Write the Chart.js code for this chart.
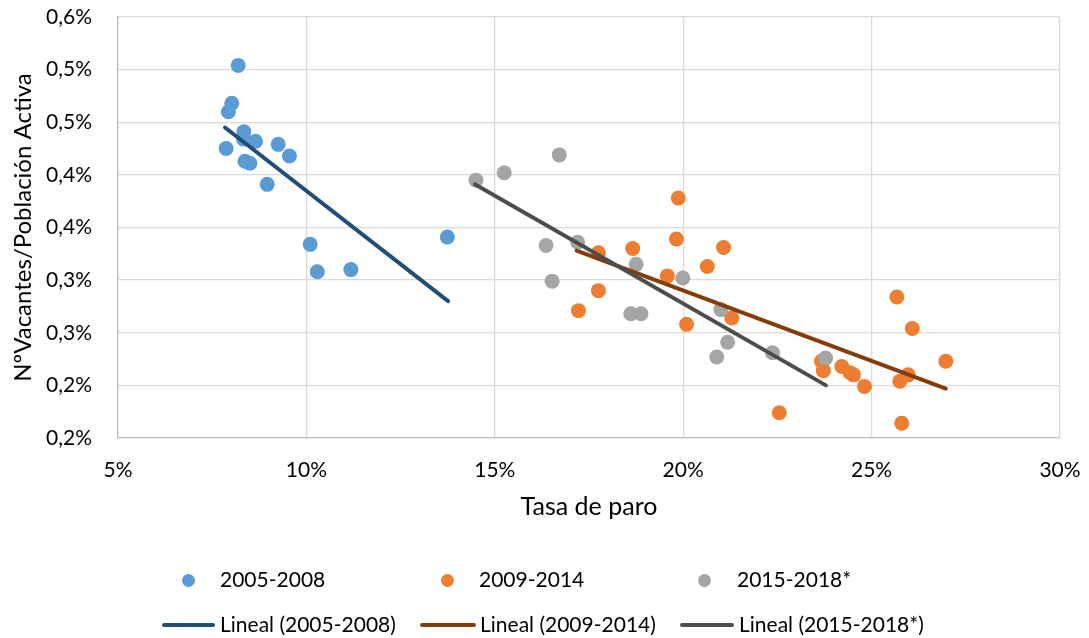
<!DOCTYPE html>
<html lang="es">
<head>
  <meta charset="UTF-8">
  <title>Vacantes vs tasa de paro</title>
  <script src="https://cdn.jsdelivr.net/npm/chart.js"></script>
  <style>
    body {
      margin: 0;
      background-color: #ffffff;
      font-family: Lato, "Open Sans", sans-serif;
    }
    #wrap {
      position: relative;
      width: 1089px;
      height: 638px;
    }
    .mark, .txt {
      position: absolute;
    }
    .txt {
      font-size: 21px;
      line-height: 24px;
      color: #000;
      white-space: nowrap;
    }
  </style>
</head>
<body>
  <div id="wrap">
    <canvas id="scatterChart"></canvas>
  </div>

  <script>
    // tick labels as shown in the original (one decimal, so they repeat)
    const xTickLabels = ["5%", "10%", "15%", "20%", "25%", "30%"];
    const yTickLabels = ["0,2%", "0,2%", "0,3%", "0,3%", "0,4%", "0,4%", "0,5%", "0,5%", "0,6%"];

    const seriesNames = ["2005-2008", "2009-2014", "2015-2018*"];

    // 2005-2008
    const paro0508 = [8.19, 8.02, 7.93, 8.34, 8.33, 8.65, 7.87, 9.25, 9.55, 8.37, 8.50, 8.96, 10.10, 10.29, 11.18, 13.74];
    const vac0508 = [0.504, 0.468, 0.460, 0.441, 0.434, 0.432, 0.425, 0.429, 0.418, 0.413, 0.411, 0.391, 0.334, 0.308, 0.310, 0.341];

    // 2009-2014
    const paro0914 = [17.75, 18.66, 19.87, 19.82, 21.07, 20.64, 19.58, 17.75, 17.22, 20.09, 21.29, 22.55,
                      25.67, 26.08, 26.97, 23.67, 23.72, 24.21, 24.43, 24.52, 24.81, 25.97, 25.75, 25.80];
    const vac0914 = [0.326, 0.330, 0.378, 0.339, 0.331, 0.313, 0.304, 0.290, 0.271, 0.258, 0.264, 0.174,
                     0.284, 0.254, 0.223, 0.223, 0.214, 0.218, 0.212, 0.210, 0.199, 0.210, 0.204, 0.164];

    // 2015-2018*
    const paro1518 = [14.50, 15.25, 16.71, 16.36, 17.20, 16.52, 18.75, 18.61, 18.88, 19.99, 21.00, 21.18, 20.89, 22.37, 23.78];
    const vac1518 = [0.395, 0.402, 0.419, 0.333, 0.336, 0.299, 0.315, 0.268, 0.268, 0.302, 0.272, 0.241, 0.227, 0.231, 0.226];

    // linear trend lines (start / end)
    const trendParo0508 = [7.84, 13.76];
    const trendVac0508 = [0.445, 0.280];
    const trendParo0914 = [17.17, 26.97];
    const trendVac0914 = [0.328, 0.197];
    const trendParo1518 = [14.47, 23.79];
    const trendVac1518 = [0.391, 0.200];

    const pointColors = ["#5B9BD5", "#ED7D31", "#A5A5A5"];
    const lineColors = ["#1F4E79", "#843C0C", "#4D4D4D"];

    const toXY = (xs, ys) => xs.map((x, i) => ({ x: x, y: ys[i] }));

    const pointSets = [[paro0508, vac0508], [paro0914, vac0914], [paro1518, vac1518]];
    const trendSets = [[trendParo0508, trendVac0508], [trendParo0914, trendVac0914], [trendParo1518, trendVac1518]];

    const datasets = [];
    pointSets.forEach((s, i) => {
      datasets.push({
        type: "scatter",
        label: seriesNames[i],
        data: toXY(s[0], s[1]),
        backgroundColor: pointColors[i],
        borderColor: pointColors[i],
        pointRadius: 7.5,
        pointBorderWidth: 0,
        order: 5 - i
      });
    });
    trendSets.forEach((s, i) => {
      datasets.push({
        type: "line",
        label: "Lineal (" + seriesNames[i] + ")",
        data: toXY(s[0], s[1]),
        borderColor: lineColors[i],
        borderWidth: 4,
        borderCapStyle: "round",
        pointRadius: 0,
        fill: false,
        order: 2 - i
      });
    });

    const tickFont = { family: "Lato", size: 21 };
    const titleFont = { family: "Lato", size: 24 };

    new Chart(document.getElementById("scatterChart"), {
      type: "scatter",
      data: { datasets: datasets },
      options: {
        responsive: true,
        maintainAspectRatio: false,
        animation: false,
        layout: { padding: { top: 17, right: 29, bottom: 108, left: 0 } },
        plugins: {
          legend: { display: false },
          tooltip: { enabled: false }
        },
        scales: {
          x: {
            type: "linear",
            min: 5,
            max: 30,
            ticks: {
              stepSize: 5,
              padding: 20,
              color: "#000",
              font: tickFont,
              callback: (v, i) => xTickLabels[i]
            },
            grid: { color: "#d9d9d9", lineWidth: 1.3, drawTicks: false },
            border: { color: "#bfbfbf", width: 1.3 },
            title: {
              display: true,
              text: "Tasa de paro",
              color: "#000",
              font: { family: "Lato", size: 25 },
              padding: { top: 0, bottom: 8 }
            },
            afterFit: scale => {
              scale.height = 92;
              scale.paddingLeft = 0;
              scale.paddingRight = 0;
            }
          },
          y: {
            type: "linear",
            min: 0.15,
            max: 0.55,
            ticks: {
              stepSize: 0.05,
              padding: 26,
              color: "#000",
              font: tickFont,
              callback: (v, i) => yTickLabels[i]
            },
            grid: { color: "#d9d9d9", lineWidth: 1.3, drawTicks: false },
            border: { color: "#bfbfbf", width: 1.3 },
            title: {
              display: true,
              text: "NºVacantes/Población Activa",
              color: "#000",
              font: titleFont,
              padding: { top: 9, bottom: 0 }
            },
            afterFit: scale => {
              scale.width = 118;
              scale.paddingTop = 0;
              scale.paddingBottom = 0;
            }
          }
        }
      }
    });

    // legend in two rows like the original
    const wrap = document.getElementById("wrap");
    const addEl = (cls, css, html) => {
      const el = document.createElement("div");
      el.className = cls;
      el.style.cssText = css;
      if (html) el.textContent = html;
      wrap.appendChild(el);
    };
    const dotX = [188, 447, 704];
    const dotTextX = [220, 479, 737];
    const lineX = [[162, 215], [420, 476], [680, 734]];
    const lineTextX = [220, 480, 739];
    seriesNames.forEach((name, i) => {
      addEl("mark", "left:" + (dotX[i] - 6.5) + "px;top:" + (580 - 6.5) + "px;width:13px;height:13px;border-radius:50%;background:" + pointColors[i]);
      addEl("txt", "left:" + dotTextX[i] + "px;top:" + (580 - 13) + "px", name);
      addEl("mark", "left:" + lineX[i][0] + "px;top:" + (625 - 2) + "px;width:" + (lineX[i][1] - lineX[i][0]) + "px;height:4px;border-radius:2px;background:" + lineColors[i]);
      addEl("txt", "left:" + lineTextX[i] + "px;top:" + (625 - 13) + "px", "Lineal (" + name + ")");
    });
  </script>
</body>
</html>
